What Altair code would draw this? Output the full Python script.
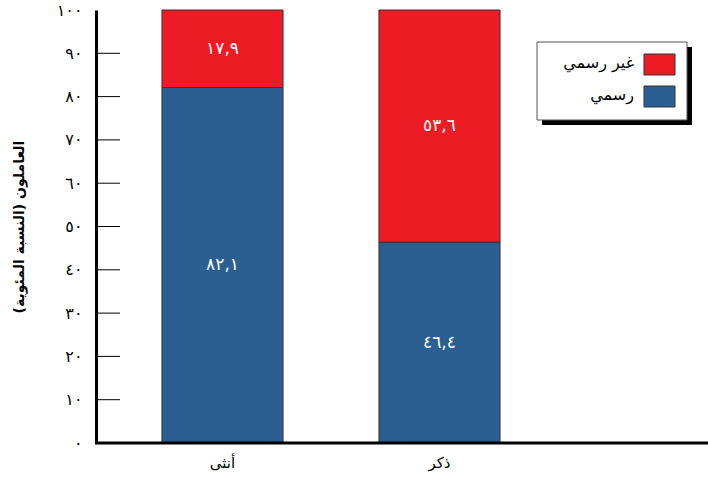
import altair as alt
import pandas as pd

categories = ["أنثى", "ذكر"]
series = ["رسمي", "غير رسمي"]
formal = [82.1, 46.4]
informal = [17.9, 53.6]
colors = ["#2B5F92", "#ED1C24"]
ytick_values = [0, 10, 20, 30, 40, 50, 60, 70, 80, 90, 100]
ytick_labels = ["٠", "١٠", "٢٠", "٣٠", "٤٠", "٥٠", "٦٠", "٧٠", "٨٠", "٩٠", "١٠٠"]
inner_ticks = [10, 20, 30, 40, 50, 60, 70, 80, 90]
y_title = "العاملون (النسبة المئوية)"

AR = "DejaVu Sans"
W, H = 612, 433
digits = str.maketrans("0123456789", "٠١٢٣٤٥٦٧٨٩")


def ar_num(v):
    return f"{v:.1f}".replace(".", ",").translate(digits)


rows = []
for i, c in enumerate(categories):
    rows.append({"cat": c, "series": series[0], "value": formal[i], "ord": 0, "label": ar_num(formal[i])})
    rows.append({"cat": c, "series": series[1], "value": informal[i], "ord": 1, "label": ar_num(informal[i])})
df = pd.DataFrame(rows)

label_map = "{" + ",".join(f"'{v}':'{l}'" for v, l in zip(ytick_values, ytick_labels)) + "}"

xscale = alt.Scale(domain=categories, range=[0, 470], paddingInner=0.442, paddingOuter=0.304)
yscale = alt.Scale(domain=[0, 100], nice=False)

base = alt.Chart(df).transform_stack(
    stack="value", groupby=["cat"], as_=["y0", "y1"], sort=[alt.SortField("ord")]
).transform_calculate(mid="(datum.y0 + datum.y1) / 2")

bars = base.mark_bar(stroke="#333333", strokeWidth=1).encode(
    x=alt.X("cat:N", scale=xscale, sort=categories,
            axis=alt.Axis(title=None, domain=False, ticks=False, labelAngle=0,
                          labelFont=AR, labelFontSize=15, labelColor="black", labelPadding=12)),
    y=alt.Y("y0:Q", scale=yscale,
            axis=alt.Axis(values=ytick_values, labelExpr=label_map + "[datum.label]",
                          tickSize=0, grid=False, domainWidth=3, domainColor="black",
                          labelFont=AR, labelFontSize=16, labelColor="black", labelPadding=14,
                          title=y_title, titleFont=AR, titleFontSize=14, titleFontWeight="bold",
                          titleColor="black", titlePadding=30)),
    y2="y1:Q",
    color=alt.Color("series:N", scale=alt.Scale(domain=series, range=colors), legend=None),
)

texts = base.mark_text(color="white", font=AR, fontSize=17, baseline="middle").encode(
    x=alt.X("cat:N", scale=xscale, sort=categories),
    y=alt.Y("mid:Q", scale=yscale),
    text="label:N",
)

tick_df = pd.DataFrame({"t": inner_ticks})
ticks = alt.Chart(tick_df).mark_rule(color="black", strokeWidth=1).encode(
    y=alt.Y("t:Q", scale=yscale), x=alt.value(0), x2=alt.value(24)
)

bottom = alt.Chart(pd.DataFrame({"z": [0]})).mark_rule(color="black", strokeWidth=3).encode(
    y=alt.Y("z:Q", scale=yscale), x=alt.value(-1), x2=alt.value(W)
)

# manual RTL legend
shadow = alt.Chart(pd.DataFrame({"a": [0]})).mark_rect(color="black").encode(
    x=alt.value(446), x2=alt.value(596), y=alt.value(37), y2=alt.value(115)
)
box = alt.Chart(pd.DataFrame({"a": [0]})).mark_rect(fill="white", stroke="#555555", strokeWidth=1).encode(
    x=alt.value(441), x2=alt.value(591), y=alt.value(32), y2=alt.value(110)
)
legend_layers = [shadow, box]
for i, (s, c) in enumerate(zip(series[::-1], colors[::-1])):
    y0 = 44 + i * 32
    legend_layers.append(
        alt.Chart(pd.DataFrame({"s": [s]})).mark_rect(fill=c, stroke="#333333", strokeWidth=1).encode(
            x=alt.value(548), x2=alt.value(579), y=alt.value(y0), y2=alt.value(y0 + 21)
        )
    )
    legend_layers.append(
        alt.Chart(pd.DataFrame({"s": [s]})).mark_text(
            align="right", baseline="middle", font=AR, fontSize=16, color="black"
        ).encode(x=alt.value(538), y=alt.value(y0 + 9), text="s:N")
    )

chart = alt.layer(bars, texts, ticks, bottom, *legend_layers).properties(
    width=W, height=H,
    autosize=alt.AutoSizeParams(type="none"),
    padding={"left": 96, "top": 10, "right": 0, "bottom": 42},
).configure_view(stroke=None)

chart.save("out.html", embed_options={"renderer": "svg", "actions": False})
